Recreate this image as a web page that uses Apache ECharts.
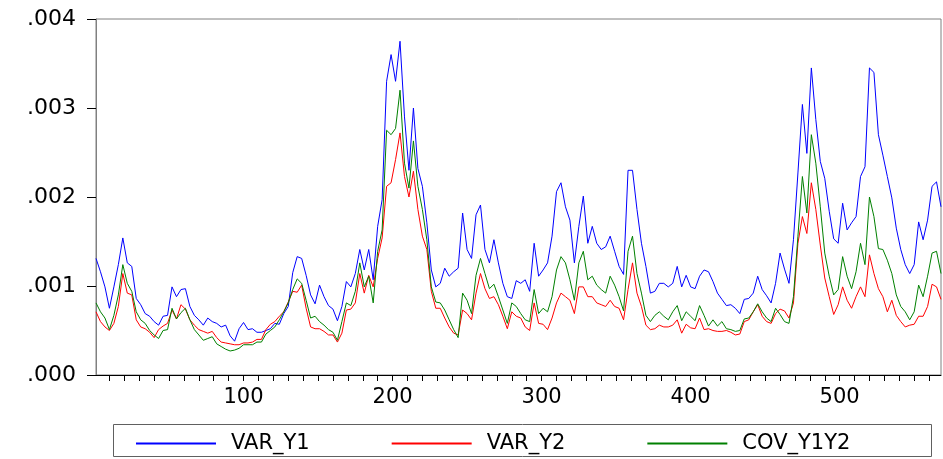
<!DOCTYPE html>
<html>
<head>
<meta charset="utf-8">
<script src="https://cdn.jsdelivr.net/npm/echarts@6/dist/echarts.min.js"></script>
<style>
html,body{margin:0;padding:0;background:#fff;}
#chart{width:943px;height:459px;}
</style>
</head>
<body>
<div id="chart"></div>
<script>
// observation step (values read every 3rd observation, starting at obs 1)
const OBS_START = 1, OBS_STEP = 3;
const xLabels = [100, 200, 300, 400, 500];
const seriesNames = ['VAR_Y1', 'VAR_Y2', 'COV_Y1Y2'];
const seriesColors = ['#0000ff', '#ff0000', '#008000'];

const VAR_Y1 = [
0.00131,0.00116,0.00099,0.00075,0.00099,0.00124,0.00154,0.00126,0.00122,0.00086,
0.00079,0.00069,0.00066,0.00060,0.00056,0.00066,0.00067,0.00099,0.00088,0.00096,
0.00097,0.00077,0.00067,0.00062,0.00056,0.00064,0.00060,0.00058,0.00054,0.00056,
0.00044,0.00038,0.00052,0.00059,0.00051,0.00052,0.00048,0.00048,0.00050,0.00052,
0.00058,0.00057,0.00069,0.00077,0.00115,0.00133,0.00131,0.00112,0.00090,0.00080,
0.00101,0.00088,0.00078,0.00074,0.00061,0.00077,0.00105,0.00099,0.00114,0.00141,
0.00118,0.00141,0.00107,0.00167,0.00197,0.00330,0.00360,0.00330,0.00375,0.00290,
0.00230,0.00300,0.00232,0.00212,0.00171,0.00118,0.00099,0.00103,0.00120,0.00111,
0.00116,0.00120,0.00182,0.00141,0.00131,0.00180,0.00191,0.00141,0.00126,0.00152,
0.00126,0.00103,0.00088,0.00086,0.00106,0.00103,0.00107,0.00094,0.00148,0.00111,
0.00118,0.00126,0.00156,0.00206,0.00216,0.00189,0.00174,0.00126,0.00167,0.00201,
0.00148,0.00167,0.00148,0.00141,0.00144,0.00156,0.00139,0.00122,0.00113,0.00230,
0.00230,0.00186,0.00148,0.00122,0.00092,0.00094,0.00103,0.00103,0.00099,0.00103,
0.00122,0.00099,0.00112,0.00099,0.00097,0.00111,0.00118,0.00116,0.00105,0.00092,
0.00085,0.00078,0.00079,0.00075,0.00069,0.00085,0.00086,0.00092,0.00111,0.00096,
0.00089,0.00081,0.00103,0.00137,0.00119,0.00103,0.00152,0.00227,0.00304,0.00249,
0.00345,0.00287,0.00240,0.00221,0.00184,0.00153,0.00148,0.00193,0.00163,0.00171,
0.00178,0.00223,0.00234,0.00345,0.00340,0.00270,0.00247,0.00223,0.00199,0.00165,
0.00141,0.00124,0.00114,0.00124,0.00172,0.00152,0.00174,0.00212,0.00217,0.00189
];
const VAR_Y2 = [
0.00071,0.00060,0.00054,0.00050,0.00058,0.00077,0.00114,0.00092,0.00090,0.00062,
0.00054,0.00052,0.00048,0.00042,0.00051,0.00055,0.00058,0.00073,0.00063,0.00079,
0.00074,0.00062,0.00056,0.00051,0.00049,0.00047,0.00049,0.00042,0.00037,0.00036,
0.00035,0.00034,0.00034,0.00036,0.00036,0.00037,0.00040,0.00040,0.00051,0.00057,
0.00060,0.00066,0.00071,0.00082,0.00094,0.00093,0.00101,0.00075,0.00054,0.00052,
0.00052,0.00049,0.00045,0.00045,0.00037,0.00047,0.00073,0.00074,0.00081,0.00114,
0.00092,0.00112,0.00099,0.00131,0.00154,0.00212,0.00216,0.00242,0.00272,0.00223,
0.00200,0.00229,0.00186,0.00156,0.00141,0.00094,0.00075,0.00075,0.00064,0.00054,
0.00047,0.00045,0.00073,0.00069,0.00062,0.00092,0.00114,0.00097,0.00086,0.00088,
0.00079,0.00066,0.00052,0.00071,0.00066,0.00064,0.00054,0.00050,0.00081,0.00058,
0.00057,0.00051,0.00064,0.00081,0.00092,0.00088,0.00084,0.00069,0.00099,0.00099,
0.00088,0.00088,0.00081,0.00079,0.00077,0.00084,0.00077,0.00075,0.00062,0.00096,
0.00126,0.00092,0.00077,0.00056,0.00051,0.00052,0.00056,0.00054,0.00054,0.00056,
0.00062,0.00047,0.00057,0.00053,0.00052,0.00064,0.00051,0.00052,0.00050,0.00049,
0.00049,0.00050,0.00048,0.00045,0.00046,0.00060,0.00062,0.00071,0.00079,0.00066,
0.00060,0.00058,0.00069,0.00074,0.00072,0.00064,0.00081,0.00148,0.00178,0.00159,
0.00216,0.00186,0.00146,0.00109,0.00088,0.00068,0.00079,0.00099,0.00084,0.00075,
0.00088,0.00099,0.00088,0.00135,0.00114,0.00097,0.00088,0.00071,0.00084,0.00067,
0.00060,0.00054,0.00056,0.00057,0.00066,0.00066,0.00077,0.00102,0.00099,0.00085
];
const COV_Y1Y2 = [
0.00081,0.00071,0.00064,0.00051,0.00067,0.00090,0.00124,0.00103,0.00094,0.00071,
0.00062,0.00058,0.00050,0.00045,0.00041,0.00050,0.00051,0.00075,0.00063,0.00070,
0.00075,0.00062,0.00051,0.00045,0.00039,0.00041,0.00043,0.00035,0.00032,0.00029,
0.00027,0.00028,0.00030,0.00034,0.00034,0.00034,0.00037,0.00037,0.00046,0.00050,
0.00054,0.00062,0.00071,0.00081,0.00096,0.00108,0.00103,0.00084,0.00064,0.00066,
0.00060,0.00056,0.00051,0.00048,0.00039,0.00060,0.00081,0.00078,0.00094,0.00126,
0.00099,0.00111,0.00081,0.00139,0.00163,0.00275,0.00270,0.00277,0.00320,0.00238,
0.00210,0.00263,0.00212,0.00186,0.00152,0.00099,0.00082,0.00081,0.00073,0.00062,
0.00051,0.00042,0.00092,0.00084,0.00069,0.00112,0.00131,0.00114,0.00097,0.00102,
0.00088,0.00073,0.00058,0.00081,0.00077,0.00069,0.00062,0.00060,0.00096,0.00069,
0.00075,0.00071,0.00088,0.00118,0.00133,0.00126,0.00107,0.00084,0.00126,0.00139,
0.00107,0.00111,0.00101,0.00096,0.00092,0.00111,0.00101,0.00088,0.00072,0.00139,
0.00156,0.00114,0.00092,0.00067,0.00060,0.00067,0.00071,0.00066,0.00062,0.00071,
0.00078,0.00061,0.00071,0.00066,0.00061,0.00078,0.00067,0.00055,0.00062,0.00055,
0.00060,0.00052,0.00051,0.00049,0.00050,0.00063,0.00064,0.00071,0.00080,0.00071,
0.00064,0.00060,0.00075,0.00068,0.00060,0.00058,0.00088,0.00156,0.00223,0.00182,
0.00270,0.00238,0.00189,0.00137,0.00111,0.00090,0.00096,0.00133,0.00111,0.00097,
0.00116,0.00148,0.00124,0.00200,0.00178,0.00142,0.00141,0.00129,0.00114,0.00090,
0.00077,0.00071,0.00062,0.00071,0.00101,0.00088,0.00111,0.00137,0.00139,0.00114
];

const obs = VAR_Y1.map((_, k) => OBS_START + OBS_STEP * k);
const pairs = arr => arr.map((v, k) => [obs[k], v]);
const minorTicks = [];
for (let t = 10; t <= 560; t += 10) minorTicks.push(t);
const seriesData = [VAR_Y1, VAR_Y2, COV_Y1Y2];

const FONT = 'DejaVu Sans';
const chart = echarts.init(document.getElementById('chart'), null, {renderer: 'canvas'});
chart.setOption({
  animation: false,
  backgroundColor: '#fff',
  grid: {left: 96, right: 2, top: 19, bottom: 84, show: true, borderColor: '#808080', borderWidth: 1},
  xAxis: {
    type: 'value', min: 1, max: 568, position: 'bottom',
    splitLine: {show: false},
    axisLine: {show: true, onZero: false, lineStyle: {color: '#000', width: 1}},
    axisTick: {show: true, customValues: minorTicks, length: 6, lineStyle: {color: '#000'}},
    axisLabel: {show: true, customValues: xLabels, margin: 12, fontFamily: FONT, fontSize: 21, color: '#000'}
  },
  yAxis: {
    type: 'value', min: 0, max: 0.004, interval: 0.001,
    splitLine: {show: false},
    axisLine: {show: true, lineStyle: {color: '#808080', width: 1}},
    axisTick: {show: true, length: 9, lineStyle: {color: '#000'}},
    axisLabel: {margin: 20, fontFamily: FONT, fontSize: 22, color: '#000',
      formatter: v => v.toFixed(3).replace(/^0/, '')}
  },
  legend: {
    left: 130, top: 428, itemWidth: 80, itemHeight: 14, itemGap: 81,
    textStyle: {fontFamily: FONT, fontSize: 21, color: '#000', padding: [0, 0, 0, 10]},
    selectedMode: false,
    itemStyle: {opacity: 0},
    data: seriesNames
  },
  graphic: [{
    type: 'rect', silent: true,
    shape: {x: 113.5, y: 424.5, width: 818, height: 32},
    style: {fill: 'none', stroke: '#606060', lineWidth: 1}
  }],
  series: seriesNames.map((n, i) => ({
    name: n, type: 'line', data: pairs(seriesData[i]), symbol: 'none', color: seriesColors[i],
    lineStyle: {color: seriesColors[i], width: 1}, itemStyle: {color: seriesColors[i]}
  }))
});
</script>
</body>
</html>
